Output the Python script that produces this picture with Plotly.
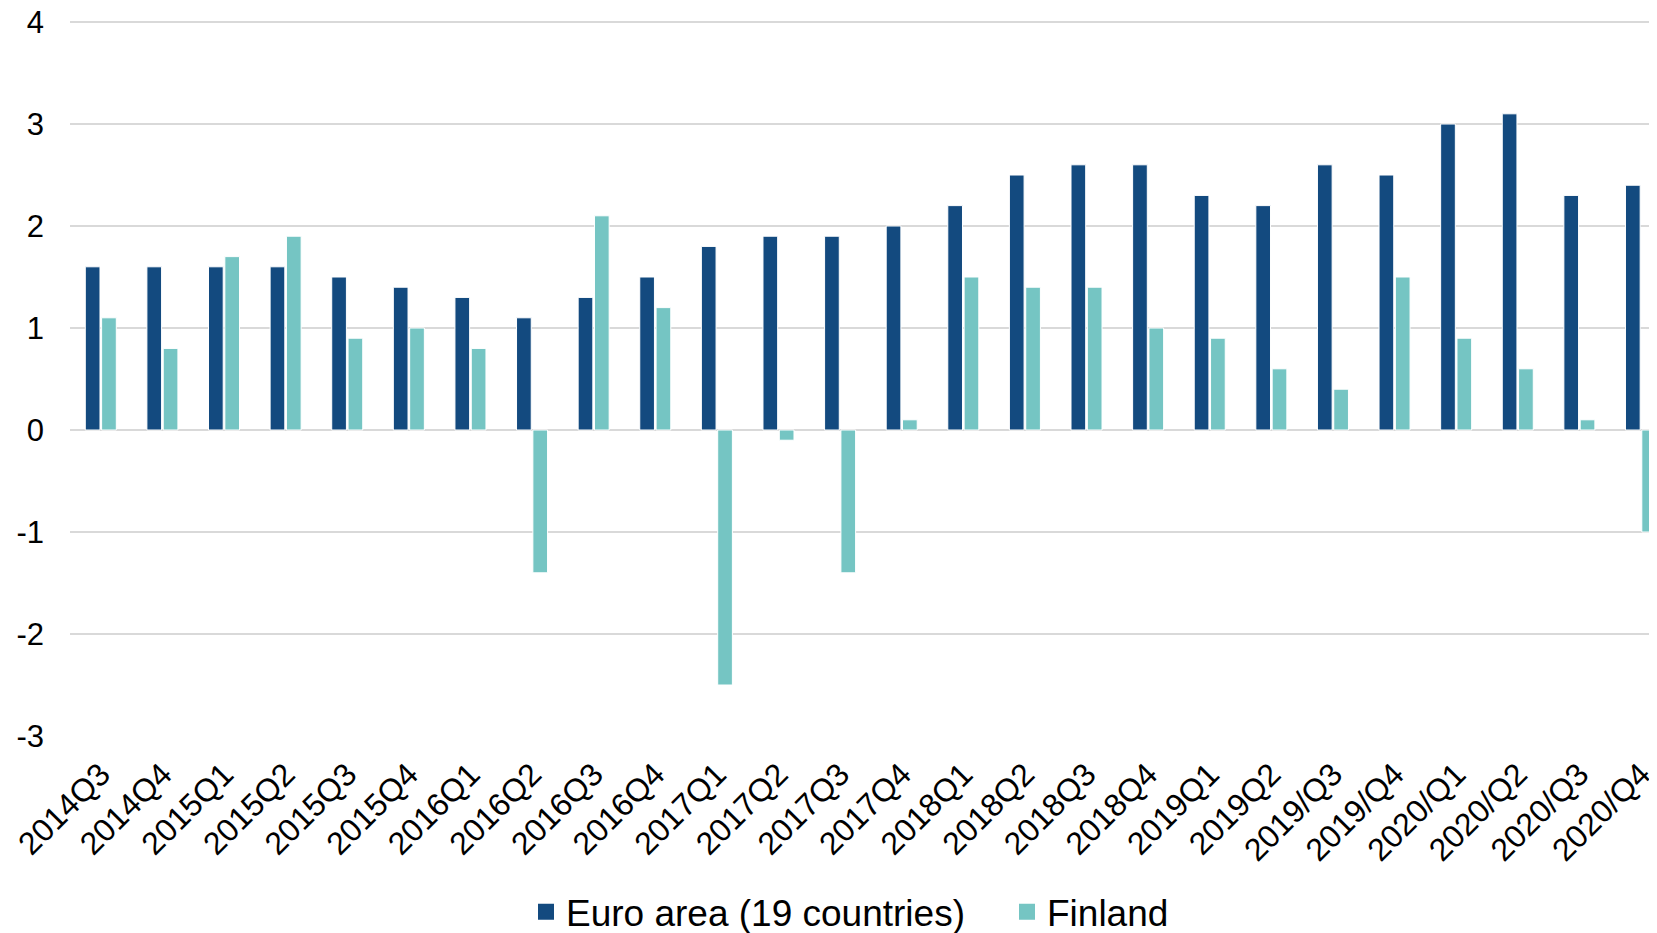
import plotly.graph_objects as go

categories = ["2014Q3", "2014Q4", "2015Q1", "2015Q2", "2015Q3", "2015Q4",
              "2016Q1", "2016Q2", "2016Q3", "2016Q4", "2017Q1", "2017Q2",
              "2017Q3", "2017Q4", "2018Q1", "2018Q2", "2018Q3", "2018Q4",
              "2019Q1", "2019Q2", "2019/Q3", "2019/Q4", "2020/Q1", "2020/Q2",
              "2020/Q3", "2020/Q4"]
euro_area = [1.6, 1.6, 1.6, 1.6, 1.5, 1.4, 1.3, 1.1, 1.3, 1.5, 1.8, 1.9, 1.9,
             2.0, 2.2, 2.5, 2.6, 2.6, 2.3, 2.2, 2.6, 2.5, 3.0, 3.1, 2.3, 2.4]
finland = [1.1, 0.8, 1.7, 1.9, 0.9, 1.0, 0.8, -1.4, 2.1, 1.2, -2.5, -0.1, -1.4,
           0.1, 1.5, 1.4, 1.4, 1.0, 0.9, 0.6, 0.4, 1.5, 0.9, 0.6, 0.1, -1.0]
y_ticks = [-3, -2, -1, 0, 1, 2, 3, 4]

series_names = ["Euro area (19 countries)", "Finland"]
series_colors = ["#134A7F", "#75C5C3"]

FONT = "Liberation Sans, Arial, sans-serif"

fig = go.Figure()
for name, vals, col in zip(series_names, [euro_area, finland], series_colors):
    fig.add_trace(go.Bar(
        x=categories, y=vals, name=name, showlegend=False, legendgroup=name,
        marker=dict(color=col, line=dict(color="white", width=1)),
    ))
for name, col in zip(series_names, series_colors):
    fig.add_trace(go.Scatter(
        x=[None], y=[None], mode="markers", name=name, legendgroup=name,
        marker=dict(symbol="square", size=19, color=col),
    ))

# the page body adds an 8px offset, so the figure is 8px smaller
fig.update_layout(
    width=1649, height=925,
    margin=dict(l=62, r=0, t=13, b=197, autoexpand=False),
    paper_bgcolor="white", plot_bgcolor="white",
    barmode="group", bargap=0.47, bargroupgap=0.1,
    font=dict(family=FONT, color="black"),
    legend=dict(orientation="h", x=456 / 1587, xanchor="left",
                y=-0.2465, yanchor="middle", font=dict(size=37, family=FONT),
                traceorder="normal", entrywidth=436, entrywidthmode="pixels"),
    showlegend=True,
)
fig.update_xaxes(
    type="category", range=[-0.5, 25.26], tickangle=-45,
    tickfont=dict(size=32, family=FONT), showgrid=False, showline=False,
    ticks="", ticklabelstandoff=12, ticklabeloverflow="allow",
)
fig.update_yaxes(
    range=[-3, 4.01], tickvals=y_ticks, ticktext=[str(v) for v in y_ticks],
    tickfont=dict(size=31, family=FONT), showgrid=True, gridcolor="#D9D9D9",
    gridwidth=1.5, zeroline=False, showline=False, ticks="",
    ticklabelstandoff=25, ticklabeloverflow="allow",
)

fig.write_html("out.html")
